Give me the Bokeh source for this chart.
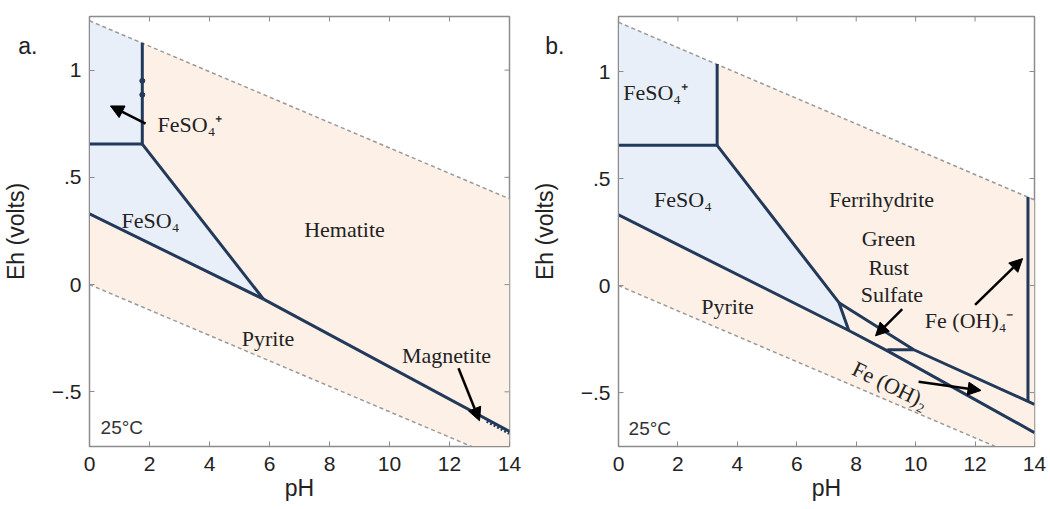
from bokeh.plotting import figure
from bokeh.models import (ColumnDataSource, Label, FixedTicker, Arrow, NormalHead, Range1d,
                          LinearAxis)
from bokeh.layouts import row
from bokeh.embed import file_html
from bokeh.resources import INLINE
from bokeh.core.properties import value

# ---------------- data ----------------
x_ticks = [0, 2, 4, 6, 8, 10, 12, 14]
y_ticks = [-0.5, 0, 0.5, 1]
y_tick_labels = ["\u2212.5", "0", ".5", "1"]

# water stability limits (dashed)
water_upper_ph = [0, 14]
water_upper_eh = [1.23, 0.40]
water_lower_ph = [0, 14]
water_lower_eh = [0.0, -0.83]
water_field_ph = [0, 14, 14, 0]
water_field_eh = [1.23, 0.40, -0.83, 0.0]

# ---- panel a ----
a_feso4p_ph = [0, 1.76, 1.76, 0]
a_feso4p_eh = [1.23, 1.126, 0.655, 0.655]
a_feso4_ph = [0, 1.76, 5.8, 0]
a_feso4_eh = [0.655, 0.655, -0.068, 0.33]
a_bound_ph = [[1.76, 1.76], [0, 1.76], [1.76, 5.8], [0, 5.8], [5.8, 14]]
a_bound_eh = [[0.655, 1.128], [0.655, 0.655], [0.655, -0.068], [0.33, -0.068], [-0.068, -0.685]]
a_magnetite_ph = [13.25, 14]
a_magnetite_eh = [-0.635, -0.692]
a_marks_ph = [1.76, 1.76]
a_marks_eh = [0.95, 0.885]
a_lab_text = ["FeSO\u2084\u207a", "FeSO\u2084", "Hematite", "Pyrite", "Magnetite"]
a_lab_ph = [2.27, 2.03, 8.5, 5.95, 11.9]
a_lab_eh = [0.745, 0.30, 0.255, -0.25, -0.33]
a_lab_align = ["left", "center", "center", "center", "center"]
a_arrow_x0 = [1.87, 12.3]
a_arrow_y0 = [0.75, -0.39]
a_arrow_x1 = [0.7, 13.0]
a_arrow_y1 = [0.833, -0.635]
a_letter = "a."
a_letter_eh = 1.111

# ---- panel b ----
b_feso4p_ph = [0, 3.32, 3.32, 0]
b_feso4p_eh = [1.23, 1.033, 0.655, 0.655]
b_feso4_ph = [0, 3.32, 7.42, 7.75, 0]
b_feso4_eh = [0.655, 0.655, -0.08, -0.21, 0.33]
b_bound_ph = [[3.32, 3.32], [0, 3.32], [3.32, 7.42, 7.75], [0, 7.75, 9.05, 14],
              [7.42, 9.94, 14], [9.05, 9.94], [13.78, 13.78]]
b_bound_eh = [[0.655, 1.035], [0.655, 0.655], [0.655, -0.08, -0.21], [0.33, -0.21, -0.305, -0.687],
              [-0.08, -0.30, -0.555], [-0.30, -0.30], [-0.54, 0.414]]
b_lab_text = ["FeSO\u2084\u207a", "FeSO\u2084", "Ferrihydrite", "Green", "Rust", "Sulfate",
              "Pyrite", "Fe (OH)\u2084\u207b"]
b_lab_ph = [1.25, 2.17, 8.85, 9.09, 9.09, 9.2, 3.67, 11.8]
b_lab_eh = [0.90, 0.40, 0.40, 0.22, 0.085, -0.04, -0.10, -0.165]
b_rot_text = ["Fe (OH)\u2082"]
b_rot_ph = [9.15]
b_rot_eh = [-0.465]
b_arrow_x0 = [9.55, 12.0, 10.1]
b_arrow_y0 = [-0.11, -0.09, -0.45]
b_arrow_x1 = [8.65, 13.6, 12.2]
b_arrow_y1 = [-0.235, 0.126, -0.49]
b_letter = "b."
b_letter_eh = 1.12

temp_label = "25\u00b0C"
x_title = "pH"
y_title = "Eh (volts)"

# ---------------- style ----------------
ORANGE = "#fdf0e7"
BLUE = "#e9eff8"
LINE = "#22395a"
FRAME = "#8c8c8c"
TXT = "#222222"
SERIF = "Liberation Serif"
SANS = "Liberation Sans"
H = 509


def make_panel(W, letter, letter_eh, letter_standoff, title_standoff, left, right, top, bottom,
               yr, blue_polys, bound_ph, bound_eh, labels, arrows, tx):
    p = figure(width=W, height=H, output_backend="svg", toolbar_location=None,
               x_range=Range1d(0, 14), y_range=Range1d(*yr),
               min_border_left=left, min_border_right=right,
               min_border_top=top, min_border_bottom=bottom)
    p.xgrid.visible = False
    p.ygrid.visible = False
    p.outline_line_color = FRAME
    p.outline_line_width = 1.5
    p.background_fill_color = "white"
    p.border_fill_color = "white"

    frame_h = H - top - bottom
    frame_w = W - left - right
    tick_dy = 5 * (yr[1] - yr[0]) / frame_h
    tick_dx = 5 * 14.0 / frame_w

    # fields
    p.patch(water_field_ph, water_field_eh, fill_color=ORANGE, line_color=None)
    for ph, eh in blue_polys:
        p.patch(ph, eh, fill_color=BLUE, line_color=None)
    p.line(water_upper_ph, water_upper_eh, line_color="#9a9a9a", line_width=1.5, line_dash="4 3")
    p.line(water_lower_ph, water_lower_eh, line_color="#9a9a9a", line_width=1.5, line_dash="4 3")
    p.multi_line(bound_ph, bound_eh, line_color=LINE, line_width=3)

    # top / right inward ticks (mirroring the axis ticks)
    p.segment(x0=x_ticks, x1=x_ticks, y0=[yr[1]] * len(x_ticks),
              y1=[yr[1] - tick_dy] * len(x_ticks), line_color=FRAME, line_width=1)
    p.segment(x0=[14] * len(y_ticks), x1=[14 - tick_dx] * len(y_ticks), y0=y_ticks, y1=y_ticks,
              line_color=FRAME, line_width=1)

    # labels
    src = ColumnDataSource(dict(x=labels[0], y=labels[1], t=labels[2], a=labels[3]))
    p.text(x="x", y="y", text="t", text_align="a", source=src, text_baseline="middle",
           text_font=value(SERIF), text_font_size="22px", text_color=TXT)

    for x0, y0, x1, y1 in zip(*arrows):
        p.add_layout(Arrow(x_start=x0, y_start=y0, x_end=x1, y_end=y1, line_width=2.5,
                           line_color="black",
                           end=NormalHead(size=13, fill_color="black", line_color="black")))

    p.add_layout(Label(x=tx[0], y=tx[1], text=temp_label, text_font=SANS, text_font_size="19px",
                       text_color="#333333", text_baseline="middle", text_align="left"))

    # axes
    for ax in (p.xaxis[0], p.yaxis[0]):
        ax.major_tick_in = 5
        ax.major_tick_out = 0
        ax.minor_tick_in = 0
        ax.minor_tick_out = 0
        ax.axis_line_color = FRAME
        ax.major_tick_line_color = FRAME
        ax.major_label_text_font = SANS
        ax.major_label_text_font_size = "21px"
        ax.major_label_text_color = TXT
    p.xaxis.ticker = FixedTicker(ticks=x_ticks, minor_ticks=[])
    p.yaxis.ticker = FixedTicker(ticks=y_ticks, minor_ticks=[])
    p.xaxis.major_label_standoff = 10
    p.yaxis.major_label_standoff = 8
    p.yaxis.major_label_orientation = "horizontal"
    p.yaxis.major_label_overrides = {float(v): s for v, s in zip(y_ticks, y_tick_labels)}
    p.xaxis.axis_label = x_title
    p.xaxis.axis_label_standoff = 1
    p.xaxis.axis_label_text_font = SANS
    p.xaxis.axis_label_text_font_size = "23px"
    p.xaxis.axis_label_text_font_style = "normal"
    p.xaxis.axis_label_text_color = TXT

    # outer left axis: carries the panel letter and the Eh title
    outer = LinearAxis(ticker=FixedTicker(ticks=[letter_eh], minor_ticks=[]),
                       major_label_overrides={float(letter_eh): letter},
                       major_tick_in=0, major_tick_out=0, minor_tick_in=0, minor_tick_out=0,
                       axis_line_color=None, major_label_standoff=letter_standoff,
                       major_label_text_font=SANS, major_label_text_font_size="23px",
                       major_label_text_color=TXT, major_label_orientation="horizontal",
                       axis_label=y_title, axis_label_standoff=title_standoff,
                       axis_label_text_font=SANS, axis_label_text_font_size="23px",
                       axis_label_text_font_style="normal", axis_label_text_color=TXT)
    p.add_layout(outer, "left")
    return p


pa = make_panel(525, a_letter, a_letter_eh, 11, -14, 89, 16, 15, 60, (-0.755, 1.25),
                [(a_feso4p_ph, a_feso4p_eh), (a_feso4_ph, a_feso4_eh)],
                a_bound_ph, a_bound_eh,
                (a_lab_ph, a_lab_eh, a_lab_text, a_lab_align),
                (a_arrow_x0, a_arrow_y0, a_arrow_x1, a_arrow_y1),
                (0.37, -0.665))
pa.line(a_magnetite_ph, a_magnetite_eh, line_color=LINE, line_width=4, line_dash="2 2")
pa.scatter(a_marks_ph, a_marks_eh, size=5, color=LINE)

pb = make_panel(524, b_letter, b_letter_eh, 13, -16, 93, 15, 16, 63, (-0.752, 1.257),
                [(b_feso4p_ph, b_feso4p_eh), (b_feso4_ph, b_feso4_eh)],
                b_bound_ph, b_bound_eh,
                (b_lab_ph, b_lab_eh, b_lab_text, ["center"] * len(b_lab_text)),
                (b_arrow_x0, b_arrow_y0, b_arrow_x1, b_arrow_y1),
                (0.34, -0.67))
pb.text(x=b_rot_ph, y=b_rot_eh, text=b_rot_text, angle=-0.45, text_align="center",
        text_baseline="middle", text_font=value(SERIF), text_font_size="22px", text_color=TXT)

layout = row(pa, pb)
open("out.html", "w").write(file_html(layout, INLINE))
